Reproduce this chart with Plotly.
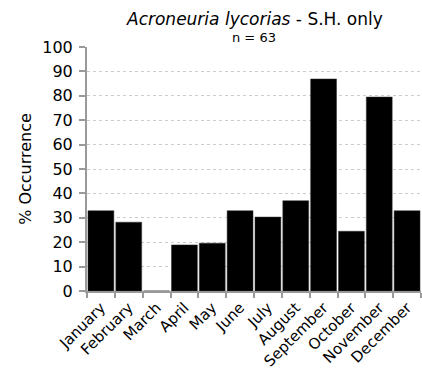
import plotly.graph_objects as go

months = ["January", "February", "March", "April", "May", "June", "July",
          "August", "September", "October", "November", "December"]
occurrence = [32.9, 28.2, 0, 18.9, 19.6, 32.9, 30.3, 37.0, 86.9, 24.5, 79.5, 32.9]

fig = go.Figure(go.Bar(
    x=months, y=occurrence,
    marker=dict(color="black", line=dict(color="#333333", width=0.5)),
))

FONT = "DejaVu Sans"
fig.update_layout(
    width=422, height=377,
    margin=dict(l=87, r=1, t=47, b=86, autoexpand=False),
    plot_bgcolor="white", paper_bgcolor="white",
    bargap=0.07,
    showlegend=False,
    font=dict(family=FONT, size=15, color="black"),
)
fig.update_xaxes(
    tickangle=-45, tickson="boundaries", ticks="outside", ticklen=5,
    tickcolor="#999999", tickwidth=2,
    showline=True, linecolor="#999999", linewidth=2,
    tickfont=dict(size=15), showgrid=False, automargin=False,
)
fig.update_yaxes(
    range=[0, 100], dtick=10, ticks="outside", ticklen=6,
    tickcolor="#999999", tickwidth=2,
    showline=True, linecolor="#999999", linewidth=2,
    showgrid=True, gridcolor="#cccccc", griddash="dot", gridwidth=1,
    zeroline=False, tickfont=dict(size=16), automargin=False,
    ticklabelstandoff=3,
    title=dict(text="% Occurrence", font=dict(size=16), standoff=7),
)
fig.add_annotation(text="<i>Acroneuria lycorias</i> - S.H. only",
                   xref="paper", yref="paper", x=0.5, y=1, yshift=28,
                   showarrow=False, font=dict(size=17), xanchor="center", yanchor="middle")
fig.add_annotation(text="n = 63",
                   xref="paper", yref="paper", x=0.5, y=1, yshift=10,
                   showarrow=False, font=dict(size=13), xanchor="center", yanchor="middle")
fig.write_html("out.html", config={"displayModeBar": False},
               post_script="document.body.style.margin='0';document.body.style.padding='0';")
